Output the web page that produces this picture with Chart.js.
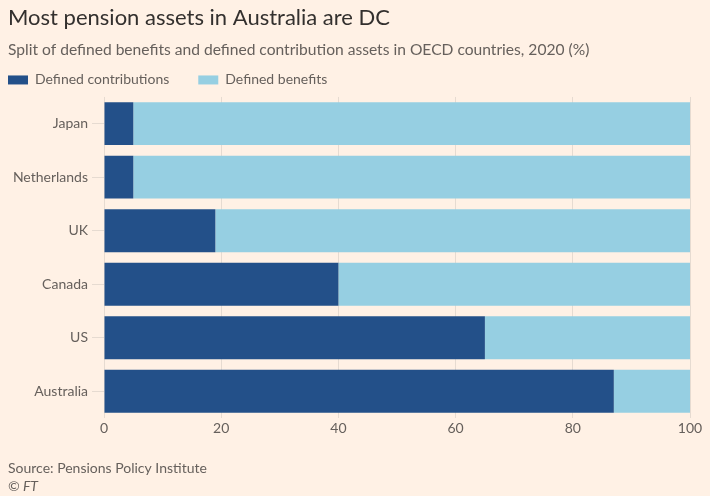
<!DOCTYPE html>
<html>
<head>
<meta charset="utf-8">
<script src="https://cdn.jsdelivr.net/npm/chart.js@4.4.1/dist/chart.umd.min.js"></script>
<style>
  html, body { margin: 0; padding: 0; background: #FFF1E5; }
  #wrap { position: relative; width: 710px; height: 496px; }
</style>
</head>
<body>
<div id="wrap"><canvas id="c" width="710" height="496"></canvas></div>
<script>
const categories = ["Japan", "Netherlands", "UK", "Canada", "US", "Australia"];
const definedContributions = [5, 5, 19, 40, 65, 87];
const definedBenefits = [95, 95, 81, 60, 35, 13];
const xTicks = [0, 20, 40, 60, 80, 100];

const FONT = "Lato, 'Open Sans', sans-serif";
const TEXT = "#66605c";
const GRID = "#e6dbd1";

const footer = {
  id: 'footer',
  afterLayout(chart) {
    chart.legend.left -= 8;
    chart.legend.right -= 8;
  },
  afterDraw(chart) {
    const ctx = chart.ctx;
    ctx.save();
    ctx.fillStyle = TEXT;
    ctx.textBaseline = 'middle';
    ctx.textAlign = 'left';
    ctx.font = "14px " + FONT;
    ctx.fillText("Source: Pensions Policy Institute", 8, 468);
    ctx.font = "italic 14px " + FONT;
    ctx.fillText("© FT", 8, 486);
    ctx.restore();
  }
};

new Chart(document.getElementById('c'), {
  type: 'bar',
  data: {
    labels: categories,
    datasets: [
      { label: 'Defined contributions', data: definedContributions, backgroundColor: '#235089', borderWidth: 0 },
      { label: 'Defined benefits', data: definedBenefits, backgroundColor: '#96cfe2', borderWidth: 0 }
    ]
  },
  options: {
    indexAxis: 'y',
    responsive: false,
    animation: false,
    barPercentage: 0.8,
    categoryPercentage: 1.0,
    layout: { padding: { left: 8, right: 20, top: 0, bottom: 57.2 } },
    scales: {
      x: {
        stacked: true,
        min: 0, max: 100,
        afterBuildTicks(axis) { axis.ticks = xTicks.map(v => ({ value: v })); },
        grid: { color: GRID, drawTicks: false },
        border: { display: false },
        ticks: { color: TEXT, font: { family: FONT, size: 14 }, padding: 2 }
      },
      y: {
        stacked: true,
        afterFit(axis) { axis.width = 96; },
        grid: { offset: false, drawOnChartArea: false, drawTicks: true, tickLength: 12, color: GRID },
        border: { display: false },
        ticks: { color: TEXT, font: { family: FONT, size: 14 }, padding: 4 }
      }
    },
    plugins: {
      title: {
        display: true, text: 'Most pension assets in Australia are DC', align: 'start',
        color: '#33302e', font: { family: FONT, size: 22, weight: 'normal', lineHeight: 1.15 },
        padding: { top: 5, bottom: 0 }
      },
      subtitle: {
        display: true, text: 'Split of defined benefits and defined contribution assets in OECD countries, 2020 (%)', align: 'start',
        color: TEXT, font: { family: FONT, size: 15.6, lineHeight: 1.1 },
        padding: { top: 11, bottom: 6.5 }
      },
      legend: {
        display: true, align: 'start',
        labels: {
          boxWidth: 20, boxHeight: 9, padding: 8, color: TEXT,
          font: { family: FONT, size: 14 },
          generateLabels(chart) {
            const items = Chart.defaults.plugins.legend.labels.generateLabels(chart);
            items.forEach((it, i) => { if (i === 0) it.text = it.text + '\u2003\u2003'; it.lineWidth = 0; });
            return items;
          }
        }
      },
      tooltip: { enabled: false }
    }
  },
  plugins: [footer]
});
</script>
</body>
</html>
